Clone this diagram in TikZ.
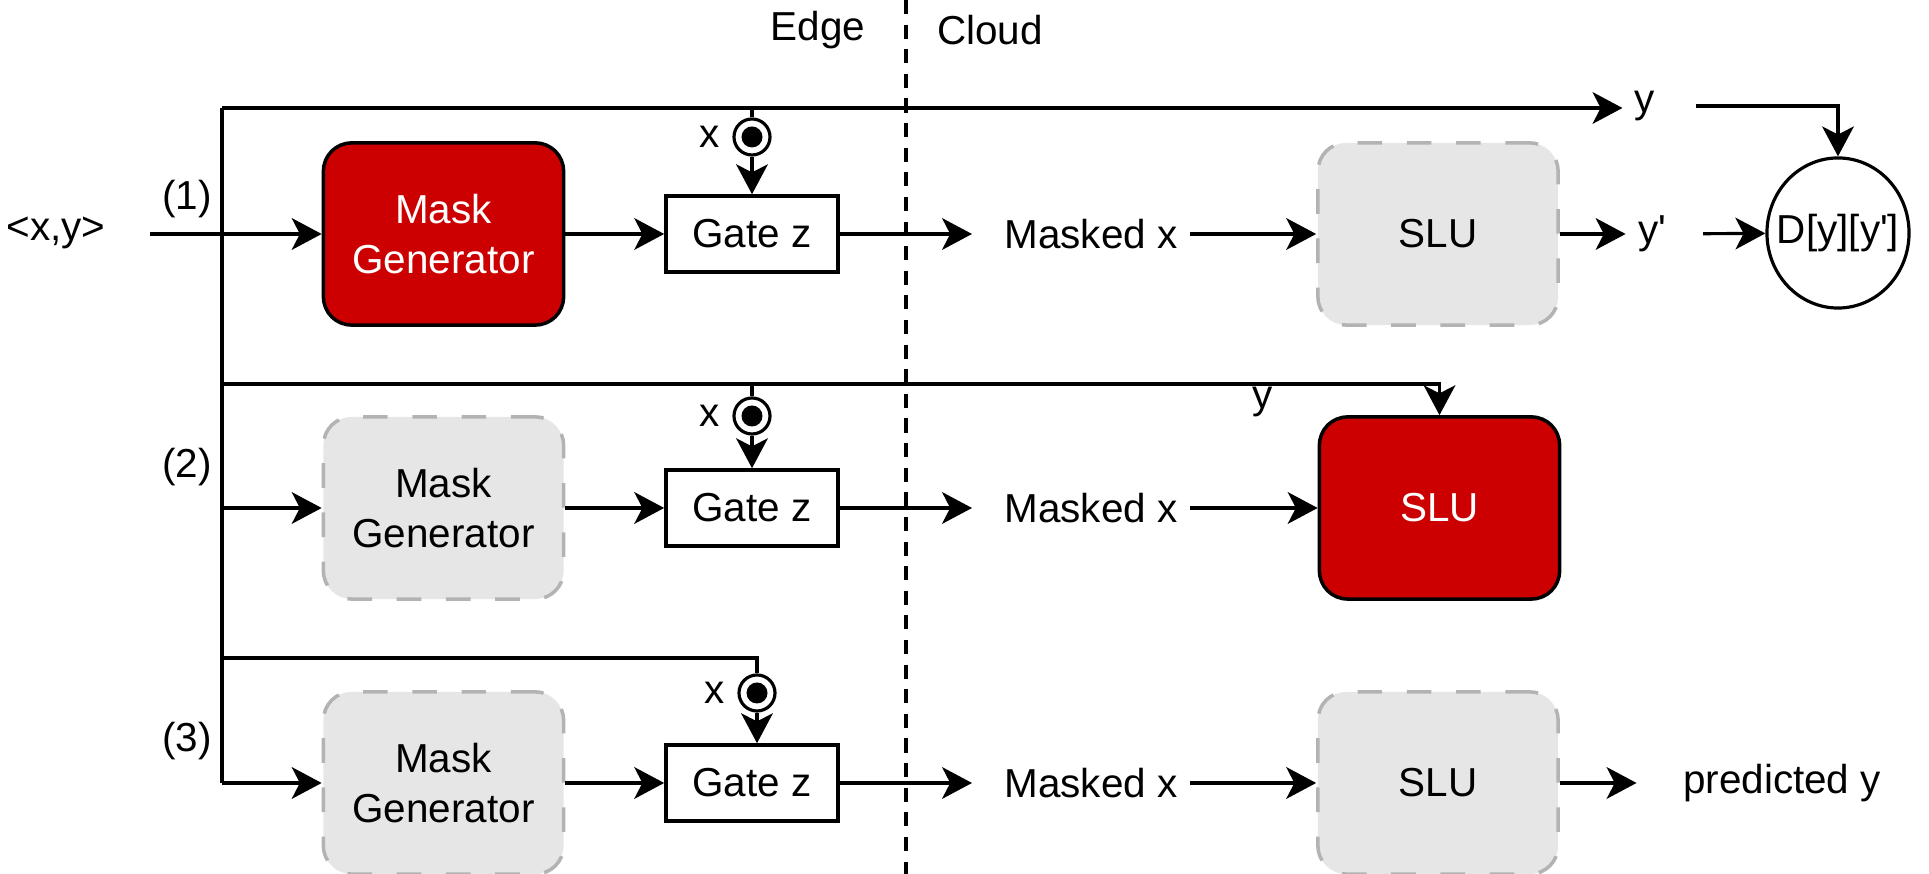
\documentclass[tikz,border=0pt]{standalone}
\usepackage{fontspec}
\setmainfont{Liberation Sans}[Ligatures=TeXOff]
\usetikzlibrary{arrows.meta,shapes.geometric}
\definecolor{maskred}{HTML}{CC0000}
\definecolor{offgray}{HTML}{E6E6E6}
\definecolor{offline}{HTML}{B3B3B3}
\begin{document}
\begin{tikzpicture}[x=0.01cm,y=-0.01cm,line cap=butt,line join=miter,>={Stealth[length=8.5pt,width=9pt,inset=2.3pt]},font=\fontsize{11.5}{14}\selectfont]
	\tikzset{flow/.style={line width=0.9pt},
		active/.style={draw=black,line width=1pt,fill=maskred,text=white,rounded corners=8pt,align=center,minimum width=2.4cm,minimum height=1.82cm},
		frozen/.style={draw=offline,line width=1pt,dash pattern=on 7pt off 7pt,fill=offgray,rounded corners=8pt,align=center,minimum width=2.4cm,minimum height=1.82cm},
		gate/.style={draw,line width=1pt,minimum width=1.72cm,minimum height=0.76cm},
		pick/.style={circle,draw,line width=0.9pt,fill=white,minimum size=0.36cm,inner sep=0pt,
			path picture={\fill[black] (path picture bounding box.center) circle (0.105cm);}}}
	\useasboundingbox (0,0) rectangle (1929,874);
	%--------- Edge / Cloud
	\node (edge) at (818,30) {Edge};
	\node (cloud) at (990,30) {Cloud};
	\coordinate (sep1) at (906,0);
	\coordinate (sep2) at (906,874);
	\draw[line width=0.9pt,dash pattern=on 4pt off 3pt] (sep1)--(sep2);
	%--------- bus
	\node (xy) at (56,233) {<x,y>};
	\coordinate (in) at (150,234);
	\coordinate (bustop) at (222,108);
	\coordinate (b2l) at (222,384);
	\coordinate (b2) at (222,508);
	\coordinate (b3l) at (222,658);
	\coordinate (b3) at (222,783);
	\node (n1) at (187,199) {(1)};
	\node (n2) at (187,467) {(2)};
	\node (n3) at (187,741) {(3)};
	\draw[flow] (bustop)--(b3);
	%--------- (1)
	\node[active] (mg1) at (443.5,234) {Mask\\Generator};
	\node[gate] (g1) at (752,234) {Gate z};
	\node[pick,label={left:x}] (p1) at (752,137) {};
	\node (mx1) at (1091,234) {Masked x};
	\node[frozen] (slu1) at (1438,234) {SLU};
	\node (yp) at (1652,234) {y'};
	\node (ytop) at (1645,106) {y};
	\node[ellipse,draw,line width=0.9pt,minimum width=1.42cm,minimum height=1.5cm,inner sep=0pt] (dd) at (1838,233) {\makebox[0pt]{D[y][y']}};
	\draw[flow,->] (in)--(mg1);
	\draw[flow,->] (bustop)--(bustop -| ytop.west);
	\draw[flow] (p1.north |- bustop)--(p1);
	\draw[flow,->] (p1)--(g1);
	\draw[flow,->] (mg1)--(g1);
	\draw[flow,->,shorten >=5.7pt] (g1)--(mx1);
	\draw[flow,->] (mx1)--(slu1);
	\draw[flow,->] (slu1)--(yp);
	\draw[flow,->,shorten <=7pt] (yp)--(dd);
	\draw[flow,->,shorten <=8pt] (ytop.east) -| (dd.north);
	%--------- (2)
	\node[frozen] (mg2) at (443.5,508) {Mask\\Generator};
	\node[gate] (g2) at (752,508) {Gate z};
	\node[pick,label={left:x}] (p2) at (752,416) {};
	\node (mx2) at (1091,508) {Masked x};
	\node[active] (slu2) at (1439.5,508) {SLU};
	\node (ylab) at (1263,402) {y};
	\draw[flow,->] (b2l) -| (slu2.north);
	\draw[flow] (p2.north |- b2l)--(p2);
	\draw[flow,->] (p2)--(g2);
	\draw[flow,->] (b2)--(mg2);
	\draw[flow,->] (mg2)--(g2);
	\draw[flow,->,shorten >=5.7pt] (g2)--(mx2);
	\draw[flow,->] (mx2)--(slu2);
	%--------- (3)
	\node[frozen] (mg3) at (443.5,783) {Mask\\Generator};
	\node[gate] (g3) at (752,783) {Gate z};
	\node[pick,label={left:x}] (p3) at (757,693) {};
	\node (mx3) at (1091,783) {Masked x};
	\node[frozen] (slu3) at (1438,783) {SLU};
	\node (pred) at (1782,783) {predicted y};
	\draw[flow] (b3l) -| (p3.north);
	\draw[flow,->] (p3)--(p3 |- g3.north);
	\draw[flow,->] (b3)--(mg3);
	\draw[flow,->] (mg3)--(g3);
	\draw[flow,->,shorten >=5.7pt] (g3)--(mx3);
	\draw[flow,->] (mx3)--(slu3);
	\draw[flow,->,shorten >=9.7pt] (slu3)--(pred);
\end{tikzpicture}
\end{document}
